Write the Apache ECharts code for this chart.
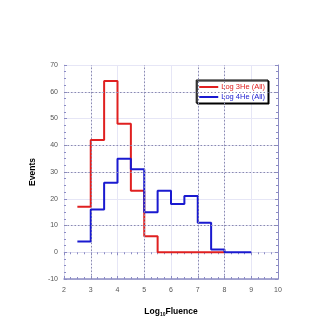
<!DOCTYPE html>
<html>
<head>
<meta charset="utf-8">
<script src="https://cdn.jsdelivr.net/npm/echarts@6/dist/echarts.min.js"></script>
<style>
  html, body { margin: 0; padding: 0; background: #fff; }
  #chart { width: 322px; height: 322px; }
</style>
</head>
<body>
<div id="chart"></div>
<script>
// bin left edges (log10 fluence), bins are 0.5 wide
var edges3He = [2.5, 3, 3.5, 4, 4.5, 5, 5.5, 6, 6.5, 7, 7.5];
var counts3He = [17, 42, 64, 48, 23, 6, 0, 0, 0, 0, 0];
var edges4He = [2.5, 3, 3.5, 4, 4.5, 5, 5.5, 6, 6.5, 7, 7.5, 8, 8.5];
var counts4He = [4, 16, 26, 35, 31, 15, 23, 18, 21, 11, 1, 0, 0];
var binWidth = 0.5;
// darker dotted grid lines
var darkGridX = [3, 5, 7, 8];
var darkGridY = [10, 30, 40, 60];

function stepData(edges, counts) {
  var d = edges.map(function (x, i) { return [x, counts[i]]; });
  d.push([edges[edges.length - 1] + binWidth, counts[counts.length - 1]]);
  return d;
}

var axisCol = '#8c8cc4';
var chart = echarts.init(document.getElementById('chart'));

var labelStyle = { fontSize: 7, color: '#555', fontFamily: 'Liberation Sans, Arial' };

chart.setOption({
  animation: false,
  grid: { left: 64, right: 44, top: 65, bottom: 43 },
  legend: {
    right: 54, top: 80,
    orient: 'vertical',
    itemWidth: 19, itemHeight: 2, itemGap: 2,
    padding: [3, 3, 2, 3],
    borderColor: '#000', borderWidth: 1,
    backgroundColor: '#fff',
    shadowColor: '#000', shadowBlur: 0, shadowOffsetX: 1, shadowOffsetY: 1,
    textStyle: { fontSize: 7.5, fontFamily: 'Liberation Sans, Arial', padding: [0, 0, 0, -2] },
    icon: 'rect',
    data: [
      { name: 'Log 3He (All)', textStyle: { color: '#e02020' } },
      { name: 'Log 4He (All)', textStyle: { color: '#1a1ad0' } }
    ]
  },
  xAxis: [{
    type: 'value', min: 2, max: 10, interval: 1,
    name: '{a|Log}{s|10}{a|Fluence}', nameLocation: 'middle', nameGap: 27,
    nameTextStyle: {
      rich: {
        a: { fontSize: 8.5, fontWeight: 'bold', color: '#000', fontFamily: 'Liberation Sans, Arial' },
        s: { fontSize: 5, fontWeight: 'bold', color: '#000', verticalAlign: 'bottom', padding: [6, 0, 0, 0] }
      }
    },
    axisLine: { onZero: false, lineStyle: { color: axisCol, width: 1.5 } },
    axisTick: { inside: true, length: 3, lineStyle: { color: axisCol } },
    minorTick: { show: true, splitNumber: 4, length: 2, lineStyle: { color: axisCol } },
    axisLabel: Object.assign({ margin: 8 }, labelStyle),
    splitLine: { show: true, lineStyle: { color: '#e6e6f6', width: 1 } }
  }, {
    type: 'value', min: 2, max: 10, interval: 1, position: 'top',
    axisLine: { show: true, lineStyle: { color: '#dcdcf0' } },
    axisTick: { inside: true, length: 3, lineStyle: { color: axisCol } },
    minorTick: { show: true, splitNumber: 4, length: 2, lineStyle: { color: axisCol } },
    axisLabel: { show: false }, splitLine: { show: false }
  }],
  yAxis: [{
    type: 'value', min: -10, max: 70, interval: 10,
    name: 'Events', nameLocation: 'middle', nameGap: 25,
    nameTextStyle: { fontSize: 8.5, fontWeight: 'bold', color: '#000', fontFamily: 'Liberation Sans, Arial' },
    axisLine: { show: true, onZero: false, lineStyle: { color: '#dcdcf0' } },
    axisTick: { inside: true, length: 3, lineStyle: { color: axisCol } },
    minorTick: { show: true, splitNumber: 4, length: 2, lineStyle: { color: axisCol } },
    axisLabel: Object.assign({ margin: 6 }, labelStyle),
    splitLine: { show: true, lineStyle: { color: '#e6e6f6', width: 1 } }
  }, {
    type: 'value', min: -10, max: 70, interval: 10, position: 'right',
    axisLine: { show: true, lineStyle: { color: axisCol, width: 1 } },
    axisTick: { inside: true, length: 3, lineStyle: { color: axisCol } },
    minorTick: { show: true, splitNumber: 4, length: 2, lineStyle: { color: axisCol } },
    axisLabel: { show: false }, splitLine: { show: false }
  }],
  series: [{
    name: 'grid', type: 'line', data: [], silent: true,
    markLine: {
      silent: true, symbol: 'none', label: { show: false },
      lineStyle: { color: '#8a8ab0', type: [1.5, 2], width: 1 },
      data: darkGridX.map(function (v) { return { xAxis: v }; })
        .concat(darkGridY.map(function (v) { return { yAxis: v }; }))
    }
  }, {
    name: 'Log 3He (All)', type: 'line', step: 'end', symbol: 'none',
    data: stepData(edges3He, counts3He),
    lineStyle: { color: '#e02020', width: 2 }, itemStyle: { color: '#e02020' }, z: 3
  }, {
    name: 'Log 4He (All)', type: 'line', step: 'end', symbol: 'none',
    data: stepData(edges4He, counts4He),
    lineStyle: { color: '#1a1ad0', width: 2 }, itemStyle: { color: '#1a1ad0' }, z: 4
  }]
});
</script>
</body>
</html>
